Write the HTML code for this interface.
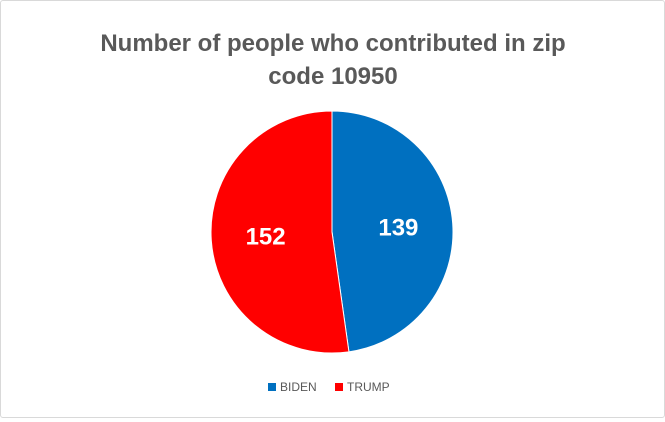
<!DOCTYPE html>
<html><head><meta charset="utf-8"><style>
html,body{margin:0;padding:0;background:#fff;}
#wrap{position:relative;width:663px;height:416px;border:1px solid #d9d9d9;border-radius:3px;background:#fff;font-family:"Liberation Sans",sans-serif;}
</style></head><body>
<div id="wrap">
<svg width="663" height="416">
<text x="332" y="50" text-anchor="middle" font-size="24" font-weight="bold" fill="#595959">Number of people who contributed in zip</text>
<text x="332" y="83" text-anchor="middle" font-size="24" font-weight="bold" fill="#595959">code 10950</text>
<g id="slices"></g>
<g>
<rect x="267" y="382" width="8" height="8" fill="#0070c0"/>
<text x="279" y="390" font-size="12" fill="#595959">BIDEN</text>
<rect x="334" y="382" width="8" height="8" fill="#ff0000"/>
<text x="346" y="390" font-size="12" fill="#595959">TRUMP</text>
</g>
</svg>
</div>
<script>
const categories = ["BIDEN", "TRUMP"];
const values = [139, 152];
const colors = ["#0070c0", "#ff0000"];
const cx = 331, cy = 231, r = 121;
const g = document.getElementById('slices');
const ns = "http://www.w3.org/2000/svg";
const total = values.reduce((a, b) => a + b, 0);
let start = 0;
values.forEach((v, i) => {
  const sweep = v / total * 2 * Math.PI;
  const end = start + sweep;
  const x1 = cx + r * Math.sin(start), y1 = cy - r * Math.cos(start);
  const x2 = cx + r * Math.sin(end), y2 = cy - r * Math.cos(end);
  const p = document.createElementNS(ns, 'path');
  p.setAttribute('d', `M${cx},${cy} L${x1},${y1} A${r},${r} 0 ${sweep > Math.PI ? 1 : 0} 1 ${x2},${y2} Z`);
  p.setAttribute('fill', colors[i]);
  p.setAttribute('stroke', '#fff');
  p.setAttribute('stroke-width', '1');
  
  
  g.appendChild(p);
  const mid = start + sweep / 2;
  const t = document.createElementNS(ns, 'text');
  t.setAttribute('x', cx + r * 0.55 * Math.sin(mid));
  t.setAttribute('y', cy - r * 0.55 * Math.cos(mid) + 8);
  t.setAttribute('text-anchor', 'middle');
  t.setAttribute('font-size', '24');
  t.setAttribute('font-weight', 'bold');
  t.setAttribute('fill', '#fff');
  t.textContent = v;
  
  
  g.appendChild(t);
  start = end;
});
</script>
</body></html>
